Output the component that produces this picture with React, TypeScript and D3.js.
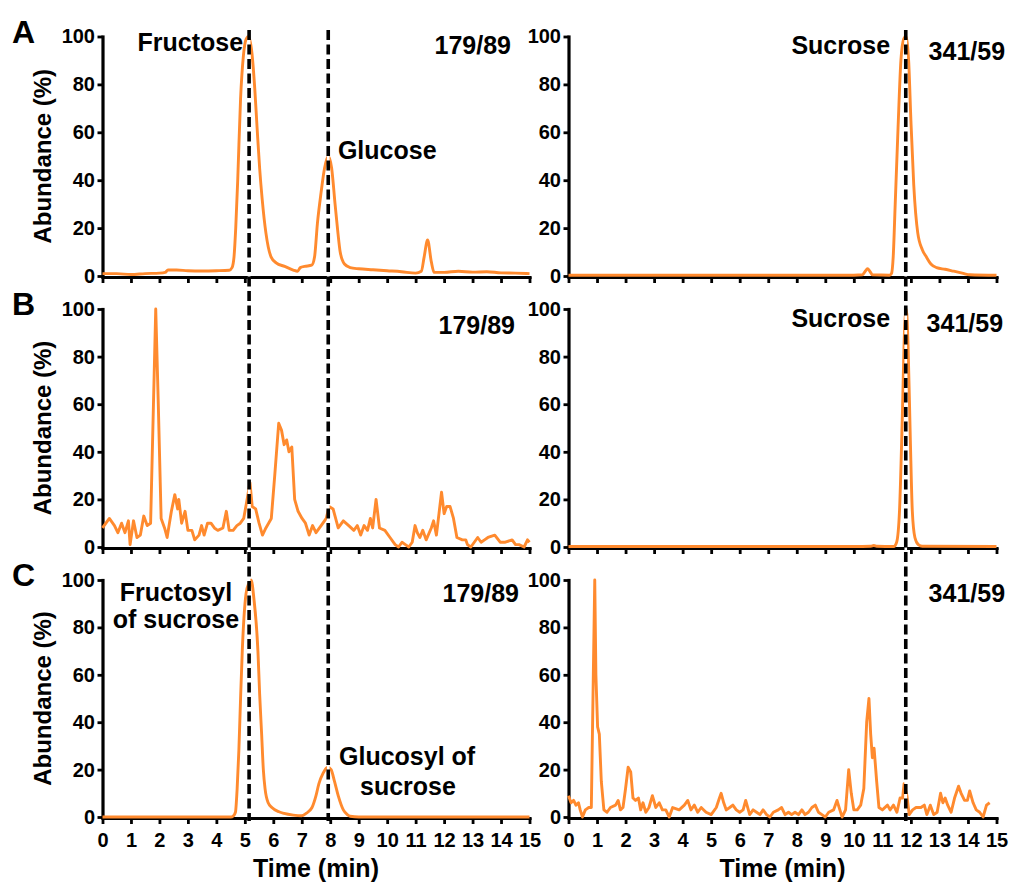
import * as d3 from 'd3';
import { useEffect, useRef } from 'react';

type Pt = [number, number];

const ORANGE = '#ff8a2e';
const FONT = '"Liberation Sans", Arial, Helvetica, sans-serif';

const timeTicks = [0, 1, 2, 3, 4, 5, 6, 7, 8, 9, 10, 11, 12, 13, 14, 15];
const abundanceTicks = [0, 20, 40, 60, 80, 100];

// retention times of the dashed guide lines (min)
const leftMarkers = [5.15, 7.93];
const rightMarkers = [11.82];

// A: 179/89
const traceA179: Pt[] = [
  [0, 1], [0.5, 1], [1, 0.6], [1.5, 1], [2, 1.2], [2.2, 1.5], [2.3, 2.5], [2.6, 2.5],
  [3, 2.2], [3.5, 2.1], [4, 2.2], [4.45, 2.4], [4.55, 3.5], [4.62, 8], [4.68, 20],
  [4.75, 40], [4.85, 74], [4.95, 92], [5.05, 99], [5.13, 100], [5.25, 93], [5.35, 78],
  [5.43, 62], [5.52, 45], [5.61, 32], [5.74, 18], [5.92, 8], [6.1, 5.5], [6.4, 4],
  [6.7, 2.5], [6.85, 2], [6.95, 3.5], [7.1, 4], [7.35, 4.5], [7.45, 8], [7.55, 22],
  [7.68, 35], [7.8, 45], [7.93, 50], [8.05, 45], [8.17, 30], [8.27, 18], [8.35, 10],
  [8.5, 5], [8.7, 3.5], [9, 3], [9.5, 2.6], [10, 2.2], [10.5, 1.8], [11, 1.2],
  [11.2, 2], [11.3, 8], [11.42, 15], [11.55, 6], [11.65, 1.5], [12, 1.5], [12.5, 2],
  [13, 1.6], [13.5, 1.8], [14, 1.3], [14.5, 1.2], [15, 1],
];

// A: 341/59
const traceA341: Pt[] = [
  [0, 0.3], [2, 0.3], [4, 0.3], [6, 0.3], [8, 0.3], [10, 0.3], [10.3, 0.5], [10.4, 2],
  [10.48, 3], [10.56, 2], [10.65, 0.5], [11.25, 0.3], [11.32, 1], [11.38, 8], [11.45, 30],
  [11.55, 62], [11.65, 90], [11.75, 99], [11.82, 100], [11.92, 90], [12, 65], [12.1, 38],
  [12.24, 18], [12.4, 11], [12.54, 8], [12.7, 5], [12.9, 3.5], [13.2, 2.8], [13.5, 2],
  [13.8, 1.2], [14.07, 0.5], [15, 0.3],
];

// B: 179/89
const traceB179: Pt[] = [
  [0, 8], [0.24, 12], [0.42, 9], [0.54, 6], [0.67, 10], [0.79, 6], [0.91, 11], [0.97, 1],
  [1.09, 11], [1.21, 4], [1.33, 5], [1.45, 13], [1.57, 9], [1.69, 10], [1.79, 60],
  [1.87, 100], [1.96, 60], [2.06, 12], [2.18, 8], [2.27, 4], [2.42, 15], [2.54, 22],
  [2.64, 16], [2.68, 20], [2.78, 10], [2.9, 15], [3, 7], [3.14, 7], [3.24, 3], [3.39, 5],
  [3.48, 9], [3.57, 5], [3.69, 10], [3.81, 10], [3.93, 8], [4.05, 7], [4.23, 8],
  [4.35, 15], [4.45, 7], [4.59, 7], [4.72, 9], [4.84, 10], [4.96, 12], [5.05, 18],
  [5.18, 27], [5.26, 17], [5.38, 16], [5.5, 10], [5.62, 5], [5.74, 8], [5.93, 12],
  [6.05, 30], [6.19, 52], [6.29, 49], [6.38, 43], [6.47, 45], [6.55, 40], [6.65, 42],
  [6.75, 20], [6.87, 15], [7.01, 12], [7.13, 10], [7.26, 5], [7.38, 9], [7.5, 6],
  [7.68, 9], [7.86, 12], [7.96, 17], [8.1, 16], [8.28, 8], [8.46, 11], [8.65, 9],
  [8.83, 7], [8.95, 9], [9.07, 5], [9.19, 9], [9.31, 7], [9.41, 12], [9.49, 8],
  [9.61, 20], [9.73, 8], [9.92, 7], [10.1, 4], [10.28, 1], [10.4, 0], [10.52, 2],
  [10.64, 1], [10.76, 0], [10.88, 2], [10.98, 9], [11.06, 6], [11.15, 4], [11.25, 7],
  [11.37, 3], [11.55, 8], [11.63, 11], [11.73, 5], [11.91, 23], [12, 14], [12.09, 17],
  [12.21, 17], [12.33, 12], [12.45, 4], [12.64, 3], [12.76, 3], [12.82, 1], [12.94, 0],
  [13.06, 2], [13.18, 4], [13.3, 2], [13.42, 3], [13.54, 4], [13.78, 5], [13.97, 2],
  [14.15, 2], [14.39, 3], [14.51, 1], [14.63, 1], [14.81, 0], [14.93, 3], [15, 2],
];

// B: 341/59
const traceB341: Pt[] = [
  [0, 0.2], [5, 0.2], [10, 0.2], [10.6, 0.3], [10.7, 0.6], [10.8, 0.3], [11.4, 0.2],
  [11.5, 2], [11.6, 15], [11.7, 55], [11.78, 92], [11.84, 100], [11.9, 85], [11.98, 45],
  [12.05, 15], [12.14, 4], [12.26, 1], [12.4, 0.3], [15, 0.2],
];

// C: 179/89
const traceC179: Pt[] = [
  [0, 0], [4.5, 0], [4.6, 0.5], [4.67, 2], [4.73, 12], [4.79, 28], [4.85, 50], [4.91, 70],
  [5.04, 94], [5.15, 99], [5.22, 100], [5.32, 92], [5.46, 70], [5.52, 52], [5.59, 35],
  [5.65, 20], [5.71, 12], [5.82, 6], [5.95, 4], [6.2, 2.2], [6.38, 1.5], [6.7, 0.8],
  [6.99, 0.5], [7.15, 1.5], [7.36, 4], [7.5, 9], [7.6, 14], [7.75, 18.5], [7.91, 21],
  [8.03, 20], [8.15, 15], [8.28, 9], [8.46, 3], [8.6, 1], [8.7, 0.3], [9, 0], [15, 0],
];

// C: 341/59
const traceC341: Pt[] = [
  [0, 9], [0.09, 6], [0.18, 7], [0.26, 5], [0.35, 6], [0.41, 3], [0.49, 0], [0.59, 3],
  [0.71, 4], [0.8, 4], [0.87, 60], [0.92, 100], [0.96, 60], [1.02, 38], [1.08, 35],
  [1.15, 15], [1.24, 3], [1.35, 2], [1.47, 4], [1.65, 5], [1.74, 7], [1.82, 3], [1.91, 4],
  [2, 12], [2.09, 21], [2.18, 19], [2.26, 8], [2.35, 7], [2.45, 8], [2.53, 3], [2.61, 6],
  [2.71, 2], [2.82, 4], [2.94, 9], [3.06, 4], [3.18, 6], [3.29, 3], [3.41, 3], [3.53, 0],
  [3.65, 4], [3.88, 3], [4.06, 5], [4.18, 7], [4.29, 3], [4.41, 5], [4.53, 2], [4.65, 4],
  [4.82, 2], [5, 1], [5.18, 4], [5.29, 8], [5.35, 10], [5.44, 6], [5.53, 3], [5.65, 4],
  [5.76, 5], [5.88, 3], [6, 2], [6.12, 3], [6.21, 7], [6.35, 1], [6.47, 3], [6.59, 2],
  [6.71, 1], [6.82, 3], [6.94, 1], [7.06, 0], [7.18, 2], [7.35, 3], [7.47, 4], [7.59, 1],
  [7.71, 2], [7.82, 1], [7.94, 2], [8.06, 1], [8.18, 3], [8.29, 1], [8.41, 2], [8.53, 4],
  [8.65, 5], [8.76, 2], [8.88, 1], [9, 0], [9.12, 2], [9.29, 3], [9.41, 7], [9.51, 3],
  [9.59, 0], [9.71, 3], [9.82, 20], [9.91, 10], [10, 3], [10.12, 3], [10.24, 5],
  [10.35, 12], [10.45, 40], [10.53, 50], [10.59, 35], [10.65, 25], [10.71, 29],
  [10.8, 15], [10.88, 4], [11, 3], [11.18, 5], [11.27, 3], [11.39, 5], [11.51, 2],
  [11.62, 8], [11.71, 8], [11.76, 14], [11.86, 9], [11.94, 1], [12.06, 3], [12.18, 4],
  [12.35, 4], [12.47, 5], [12.56, 1], [12.68, 5], [12.8, 1], [12.92, 2], [13.04, 10],
  [13.12, 6], [13.2, 8], [13.29, 5], [13.41, 2], [13.53, 8], [13.67, 13], [13.76, 10],
  [13.88, 7], [13.98, 7], [14.06, 11], [14.18, 6], [14.29, 3], [14.41, 2], [14.53, 0],
  [14.65, 5], [14.76, 6],
];

interface Note {
  text: string;
  t: number;
  v: number;
  anchor: 'start' | 'middle' | 'end';
}

interface Panel {
  row: number;
  col: number;
  data: Pt[];
  smooth: boolean;
  notes: Note[];
}

const panels: Panel[] = [
  {
    row: 0, col: 0, data: traceA179, smooth: true,
    notes: [
      { text: 'Fructose', t: 4.94, v: 94, anchor: 'end' },
      { text: '179/89', t: 14.35, v: 92.5, anchor: 'end' },
      { text: 'Glucose', t: 8.27, v: 49, anchor: 'start' },
    ],
  },
  {
    row: 0, col: 1, data: traceA341, smooth: true,
    notes: [
      { text: 'Sucrose', t: 11.27, v: 92.7, anchor: 'end' },
      { text: '341/59', t: 15.3, v: 90.2, anchor: 'end' },
    ],
  },
  {
    row: 1, col: 0, data: traceB179, smooth: false,
    notes: [{ text: '179/89', t: 14.49, v: 89.5, anchor: 'end' }],
  },
  {
    row: 1, col: 1, data: traceB341, smooth: true,
    notes: [
      { text: 'Sucrose', t: 11.27, v: 92.4, anchor: 'end' },
      { text: '341/59', t: 15.23, v: 90.3, anchor: 'end' },
    ],
  },
  {
    row: 2, col: 0, data: traceC179, smooth: true,
    notes: [
      { text: 'Fructosyl', t: 2.58, v: 91.1, anchor: 'middle' },
      { text: 'of sucrose', t: 2.58, v: 79.7, anchor: 'middle' },
      { text: '179/89', t: 14.63, v: 90.7, anchor: 'end' },
      { text: 'Glucosyl of', t: 10.7, v: 21.9, anchor: 'middle' },
      { text: 'sucrose', t: 10.73, v: 9.3, anchor: 'middle' },
    ],
  },
  {
    row: 2, col: 1, data: traceC341, smooth: false,
    notes: [{ text: '341/59', t: 15.3, v: 90.7, anchor: 'end' }],
  },
];

const rowLetters = ['A', 'B', 'C'];

const W = 1011;
const H = 884;
const cols = [
  { x0: 102.5, x1: 529.5 },
  { x0: 568.5, x1: 996.5 },
];
const rows = [
  { top: 36.5, bottom: 276 },
  { top: 309, bottom: 547 },
  { top: 580, bottom: 817 },
];

export default function App() {
  const ref = useRef<SVGSVGElement | null>(null);

  useEffect(() => {
    if (!ref.current) return;
    const svg = d3.select(ref.current);
    svg.selectAll('*').remove();

    const xScales = cols.map((c) =>
      d3.scaleLinear().domain([0, 15]).range([c.x0, c.x1])
    );

    panels.forEach((p) => {
      const row = rows[p.row];
      const x = xScales[p.col];
      const y = d3.scaleLinear().domain([0, 100]).range([row.bottom, row.top]);
      const g = svg.append('g');

      // x axis (labels only on the bottom row)
      const xAxis = g
        .append('g')
        .attr('transform', `translate(0,${row.bottom + 1})`)
        .call(
          d3
            .axisBottom(x)
            .tickValues(timeTicks)
            .tickSize(6)
            .tickSizeOuter(0)
            .tickPadding(9)
            .tickFormat((d) => (p.row === 2 ? String(d) : ''))
        );

      const yAxis = g
        .append('g')
        .attr('transform', `translate(${x(0)},0)`)
        .call(
          d3
            .axisLeft(y)
            .tickValues(abundanceTicks)
            .tickSize(5)
            .tickSizeOuter(0)
            .tickPadding(2.5)
        );

      [xAxis, yAxis].forEach((ax) => {
        ax.select('.domain')
          .attr('stroke', '#000')
          .attr('stroke-width', 3.2)
          .attr('stroke-linecap', 'square');
        ax.selectAll('.tick line').attr('stroke', '#000').attr('stroke-width', 2.8);
        ax.selectAll('text')
          .attr('fill', '#000')
          .attr('font-family', FONT)
          .attr('font-weight', 'bold')
          .attr('font-size', 20);
      });

      const line = d3
        .line<Pt>()
        .x((d) => x(d[0]))
        .y((d) => y(d[1]))
        .curve(p.smooth ? d3.curveMonotoneX : d3.curveLinear);

      g.append('path')
        .datum(p.data)
        .attr('d', line)
        .attr('fill', 'none')
        .attr('stroke', ORANGE)
        .attr('stroke-width', 2.9)
        .attr('stroke-linejoin', 'round');

      g.selectAll('text.note')
        .data(p.notes)
        .join('text')
        .attr('class', 'note')
        .attr('x', (d) => x(d.t))
        .attr('y', (d) => y(d.v))
        .attr('text-anchor', (d) => d.anchor)
        .attr('font-family', FONT)
        .attr('font-weight', 'bold')
        .attr('font-size', 25)
        .attr('fill', '#000')
        .text((d) => d.text);
    });

    // dashed guide lines drawn over the traces
    const guides = [
      ...leftMarkers.map((t) => xScales[0](t)),
      ...rightMarkers.map((t) => xScales[1](t)),
    ];
    guides.forEach((gx) => {
      svg
        .append('line')
        .attr('x1', gx)
        .attr('x2', gx)
        .attr('y1', 30)
        .attr('y2', 821)
        .attr('stroke', '#fff')
        .attr('stroke-width', 2.6);
      svg
        .append('line')
        .attr('x1', gx)
        .attr('x2', gx)
        .attr('y1', 30)
        .attr('y2', 821)
        .attr('stroke', '#000')
        .attr('stroke-width', 3.6)
        .attr('stroke-dasharray', '10,4.5');
    });

    // panel letters and y titles
    rows.forEach((r, i) => {
      svg
        .append('text')
        .attr('x', 12)
        .attr('y', r.top + 6)
        .attr('font-family', FONT)
        .attr('font-weight', 'bold')
        .attr('font-size', 32)
        .text(rowLetters[i]);

      svg
        .append('text')
        .attr('transform', `translate(50.5,${(r.top + r.bottom) / 2}) rotate(-90)`)
        .attr('text-anchor', 'middle')
        .attr('font-family', FONT)
        .attr('font-weight', 'bold')
        .attr('font-size', 24)
        .text('Abundance (%)');
    });

    cols.forEach((c) => {
      svg
        .append('text')
        .attr('x', (c.x0 + c.x1) / 2)
        .attr('y', 877)
        .attr('text-anchor', 'middle')
        .attr('font-family', FONT)
        .attr('font-weight', 'bold')
        .attr('font-size', 25)
        .text('Time (min)');
    });
  }, []);

  return (
    <div style={{ position: 'absolute', left: 0, top: 0 }}>
      <svg ref={ref} width={W} height={H} style={{ display: 'block', background: '#fff' }} />
    </div>
  );
}
